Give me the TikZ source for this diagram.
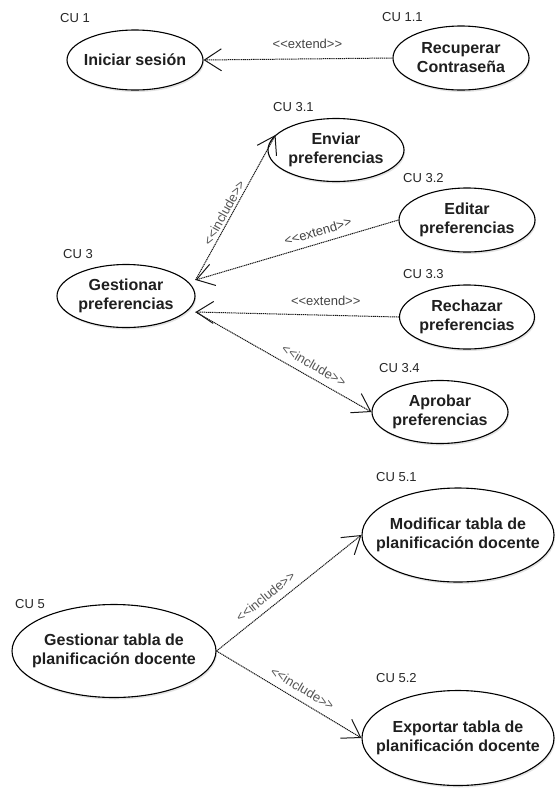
\documentclass[tikz,border=0pt]{standalone}
\usepackage{fontspec}
\setmainfont{Liberation Sans}
\usetikzlibrary{shapes.geometric,arrows.meta,shadows}

\definecolor{lineink}{HTML}{161616}
\definecolor{idink}{HTML}{262626}
\definecolor{stereoink}{HTML}{444444}
\definecolor{inclink}{HTML}{555555}

% stereotype text with the two angle brackets kept apart (no guillemet ligature)
\newcommand\stereo[1]{<\kern0pt<#1>\kern0pt>}

\begin{document}
\begin{tikzpicture}[x=1pt,y=-1pt,
  usecase/.style={ellipse, draw=black, line width=1.1pt, fill=white,
    inner sep=0pt,
    drop shadow={opacity=0.22, shadow xshift=1pt, shadow yshift=-2pt}},
  uctext/.style={inner sep=0pt, align=center, text=black!88,
    font=\bfseries\fontsize{16}{19}\selectfont},
  cuid/.style={anchor=west, inner sep=0pt, text=idink,
    font=\fontsize{13}{15}\selectfont},
  rel/.style={draw=lineink, line width=1pt, dash pattern=on 1.2pt off 0.7pt,
    -{Straight Barb[length=17pt,width=22pt,line width=1pt]}},
  extlabel/.style={text=stereoink, font=\fontsize{13}{15}\selectfont},
  inclabel/.style={text=inclink, font=\fontsize{13}{15}\selectfont, sloped}
]
\useasboundingbox (0,0) rectangle (556,788);

% ---- CU 1 -------------------------------------------------------------
\node[usecase, minimum width=136pt, minimum height=60pt,
      label={[uctext]center:Iniciar sesión}] (ini) at (135,60) {};
\node[usecase, minimum width=136pt, minimum height=64pt,
      label={[uctext]center:Recuperar\\Contraseña}] (rec) at (461,58) {};
\node[cuid] (id1)  at (60,18)  {CU 1};
\node[cuid] (id11) at (382,17) {CU 1.1};

\draw[rel] (rec.west) -- node[pos=0.45, above=6pt, extlabel] {\stereo{extend}} (ini.east);

% ---- CU 3 -------------------------------------------------------------
\node[usecase, minimum width=138pt, minimum height=63pt,
      label={[uctext]center:Gestionar\\preferencias}] (gp) at (126,296) {};
\node[usecase, minimum width=136pt, minimum height=63pt,
      label={[uctext]center:Enviar\\preferencias}] (env) at (336,150) {};
\node[usecase, minimum width=136pt, minimum height=64pt,
      label={[uctext]center:Editar\\preferencias}] (edi) at (467,220) {};
\node[usecase, minimum width=135pt, minimum height=64pt,
      label={[uctext]center:Rechazar\\preferencias}] (rech) at (467,317) {};
\node[usecase, minimum width=136pt, minimum height=63pt,
      label={[uctext]center:Aprobar\\preferencias}] (apr) at (440,412) {};

\node[cuid] (id3)  at (63,254)  {CU 3};
\node[cuid] (id31) at (273,107) {CU 3.1};
\node[cuid] (id32) at (403,178) {CU 3.2};
\node[cuid] (id33) at (403,274) {CU 3.3};
\node[cuid] (id34) at (379,368) {CU 3.4};

\draw[rel] ([yshift=16pt]gp.east) -- node[pos=0.44, above=1.5pt, inner sep=0.8pt, inclabel] {\stereo{include}} (env.166);
\draw[rel] (edi.west) -- node[pos=0.38, above=3.5pt, inclabel, text=stereoink] {\stereo{extend}} ([yshift=16pt]gp.east);
\draw[rel] (rech.west) -- node[pos=0.36, above=6pt, extlabel] {\stereo{extend}} ([yshift=-16pt]gp.east);
\draw[rel] ([yshift=-16pt]gp.east) -- node[pos=0.64, above=3.5pt, inclabel] {\stereo{include}} (apr.west);

% ---- CU 5 -------------------------------------------------------------
\node[usecase, minimum width=204pt, minimum height=93pt,
      label={[uctext]center:Gestionar tabla de\\planificación docente}] (gt) at (114,651) {};
\node[usecase, minimum width=192pt, minimum height=94pt,
      label={[uctext]center:Modificar tabla de\\planificación docente}] (mod) at (458,535) {};
\node[usecase, minimum width=192pt, minimum height=95pt,
      label={[uctext]center:Exportar tabla de\\planificación docente}] (exp) at (458,738) {};

\node[cuid] (id5)  at (15,604)  {CU 5};
\node[cuid] (id51) at (376,477) {CU 5.1};
\node[cuid] (id52) at (376,678) {CU 5.2};

\draw[rel] (gt.east) -- node[pos=0.39, above=3.5pt, inclabel] {\stereo{include}} (mod.west);
\draw[rel] (gt.east) -- node[pos=0.55, above=3.5pt, inclabel] {\stereo{include}} (exp.west);
\end{tikzpicture}
\end{document}
